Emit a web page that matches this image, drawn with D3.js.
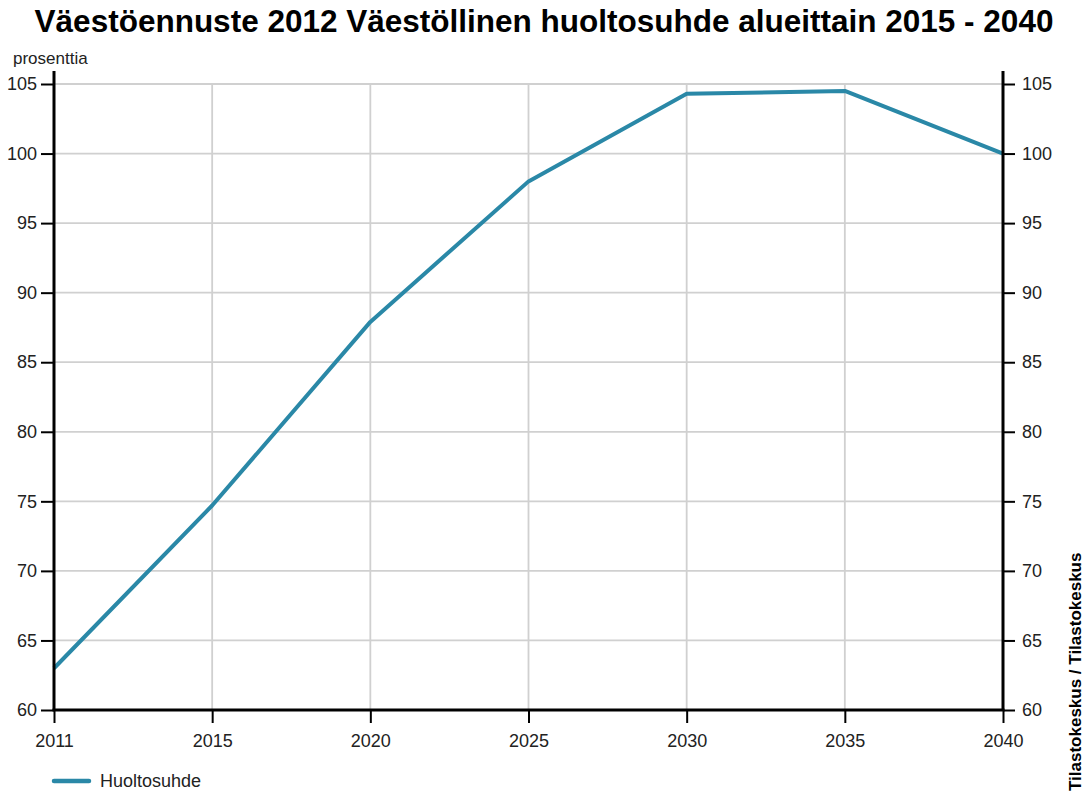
<!DOCTYPE html>
<html>
<head>
<meta charset="utf-8">
<script src="https://cdn.jsdelivr.net/npm/d3@7"></script>
<style>
  body { margin: 0; background: #fff; }
  svg { display: block; font-family: "Liberation Sans", Arial, sans-serif; }
</style>
</head>
<body>
<div id="chart"></div>
<script>
// Väestöllinen huoltosuhde, prosenttia
const years = ['2011', '2015', '2020', '2025', '2030', '2035', '2040'];
const huoltosuhde = [63.0, 74.7, 87.9, 98.0, 104.3, 104.5, 100.0];
const yTicks = [60, 65, 70, 75, 80, 85, 90, 95, 100, 105];

const width = 1085, height = 794;
const margin = { top: 84, right: 82, bottom: 84, left: 54 };
const lineColor = '#2a88a7';

const svg = d3.select('#chart').append('svg')
  .attr('width', width)
  .attr('height', height);

const x = d3.scalePoint()
  .domain(years)
  .range([margin.left, width - margin.right]);

const y = d3.scaleLinear()
  .domain([60, 105])
  .range([height - margin.bottom, margin.top]);

// Title
svg.append('text')
  .attr('x', 544).attr('y', 32)
  .attr('text-anchor', 'middle')
  .attr('font-size', '31.5px')
  .attr('font-weight', 'bold')
  .text('Väestöennuste 2012 Väestöllinen huoltosuhde alueittain 2015 - 2040');

svg.append('text')
  .attr('x', 13).attr('y', 64)
  .attr('font-size', '17px')
  .attr('fill', '#222')
  .text('prosenttia');

// Grid
const grid = svg.append('g');
grid.selectAll('line.h')
  .data(yTicks)
  .join('line')
  .attr('x1', x.range()[0]).attr('x2', x.range()[1])
  .attr('y1', d => y(d)).attr('y2', d => y(d))
  .attr('stroke', '#d0d0d0').attr('stroke-width', 1.8);
grid.selectAll('line.v')
  .data(years)
  .join('line')
  .attr('x1', d => x(d)).attr('x2', d => x(d))
  .attr('y1', y(105)).attr('y2', y(60))
  .attr('stroke', '#d0d0d0').attr('stroke-width', 1.8);

// Line
const line = d3.line()
  .x((d, i) => x(years[i]))
  .y(d => y(d));

svg.append('path')
  .datum(huoltosuhde)
  .attr('d', line)
  .attr('fill', 'none')
  .attr('stroke', lineColor)
  .attr('stroke-width', 4)
  .attr('stroke-linejoin', 'round');

// Axes
function styleAxis(g) {
  g.select('.domain').remove();
  g.selectAll('.tick line').attr('stroke', '#000').attr('stroke-width', 2);
  g.selectAll('.tick text').attr('fill', '#222').attr('font-size', '18px');
}

svg.append('g')
  .attr('transform', `translate(${margin.left},0)`)
  .call(d3.axisLeft(y).tickValues(yTicks).tickSize(13).tickPadding(4))
  .call(styleAxis);

svg.append('g')
  .attr('transform', `translate(${width - margin.right},0)`)
  .call(d3.axisRight(y).tickValues(yTicks).tickSize(12).tickPadding(7))
  .call(styleAxis);

svg.append('g')
  .attr('transform', `translate(0,${height - margin.bottom})`)
  .call(d3.axisBottom(x).tickSize(13).tickPadding(11))
  .call(styleAxis);

// Axis lines
svg.append('line')
  .attr('x1', x.range()[0]).attr('x2', x.range()[0])
  .attr('y1', 71).attr('y2', y(60))
  .attr('stroke', '#000').attr('stroke-width', 3);
svg.append('line')
  .attr('x1', x.range()[1]).attr('x2', x.range()[1])
  .attr('y1', 71).attr('y2', y(60))
  .attr('stroke', '#000').attr('stroke-width', 3);
svg.append('line')
  .attr('x1', x.range()[0] - 1.5).attr('x2', x.range()[1] + 1.5)
  .attr('y1', y(60)).attr('y2', y(60))
  .attr('stroke', '#000').attr('stroke-width', 3);

// Legend
svg.append('line')
  .attr('x1', 54).attr('x2', 89)
  .attr('y1', 781).attr('y2', 781)
  .attr('stroke', lineColor).attr('stroke-width', 4.5)
  .attr('stroke-linecap', 'round');
svg.append('text')
  .attr('x', 100).attr('y', 787)
  .attr('font-size', '18px')
  .attr('fill', '#222')
  .text('Huoltosuhde');

// Source
svg.append('text')
  .attr('transform', 'translate(1081,791) rotate(-90)')
  .attr('font-size', '17px')
  .attr('font-weight', 'bold')
  .text('Tilastokeskus / Tilastokeskus');
</script>
</body>
</html>
